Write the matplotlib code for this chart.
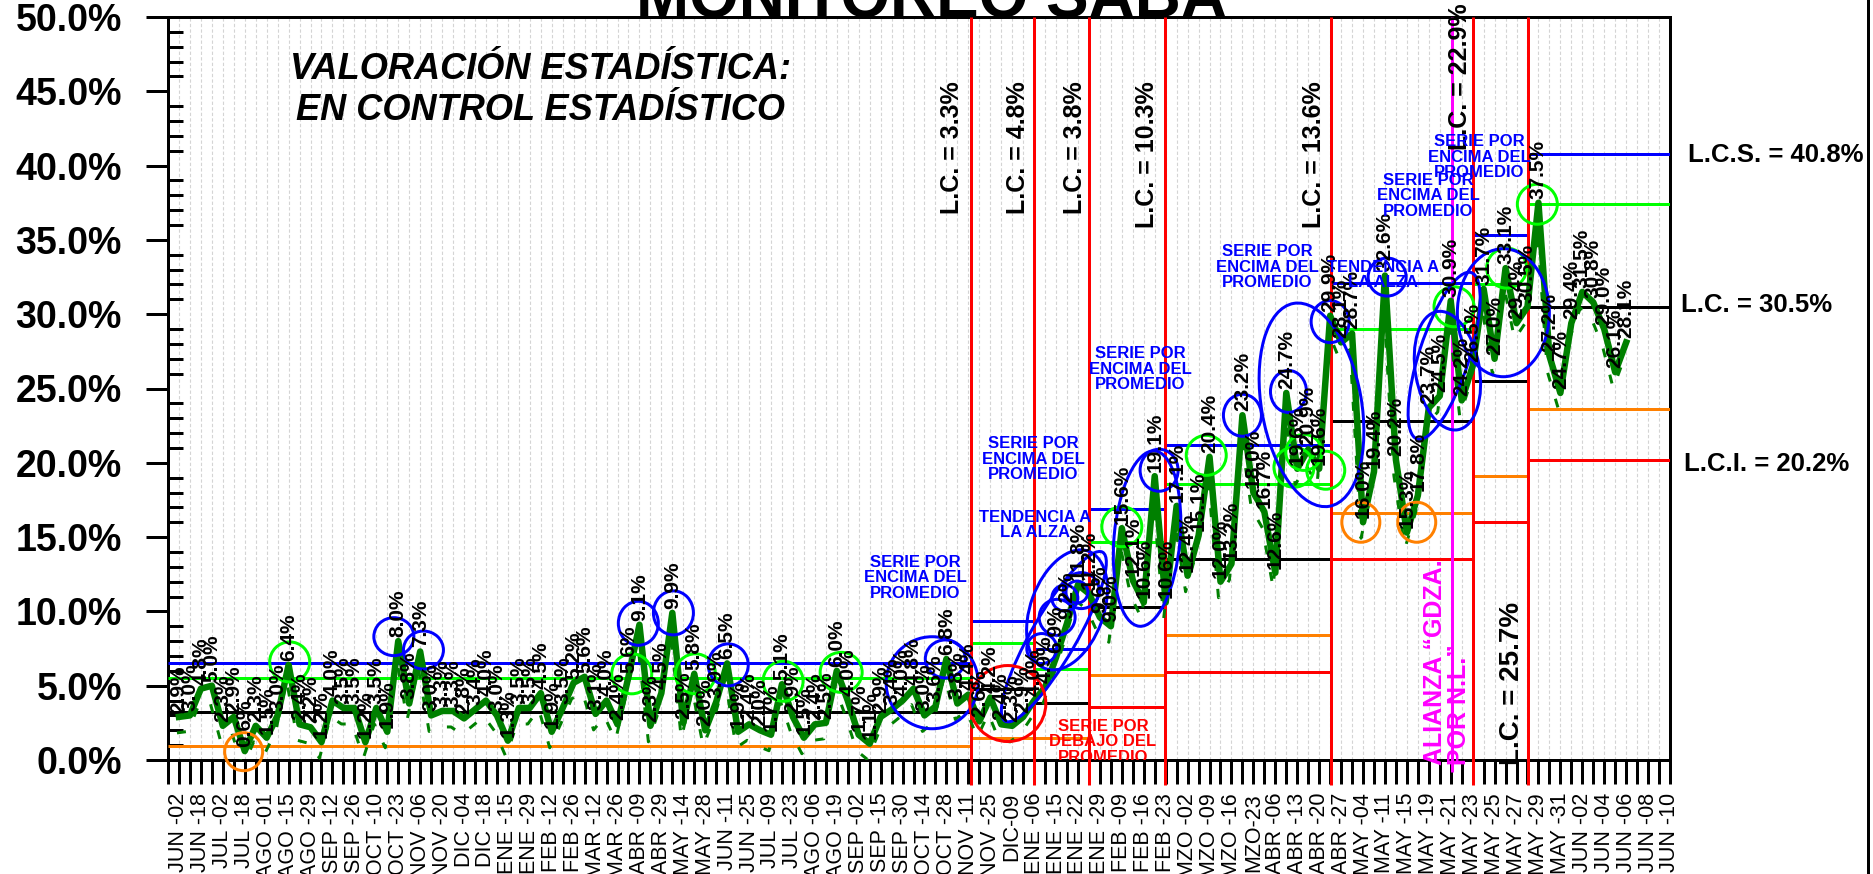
import matplotlib
matplotlib.use("Agg")
import matplotlib.pyplot as plt
from matplotlib.patches import Ellipse
from matplotlib.transforms import ScaledTranslation, offset_copy
from matplotlib.lines import Line2D
import numpy as np

plt.rcParams['font.family'] = ['Liberation Sans', 'DejaVu Sans']

# ---------------- data ----------------
x_labels = ["JUN -02", "JUN -18", "JUL -02", "JUL -18", "AGO -01", "AGO -15", "AGO -29",
            "SEP -12", "SEP -26", "OCT -10", "OCT -23", "NOV -06", "NOV -20", "DIC -04",
            "DIC -18", "ENE -15", "ENE -29", "FEB -12", "FEB -26", "MAR -12", "MAR -26",
            "ABR -09", "ABR -29", "MAY -14", "MAY -28", "JUN -11", "JUN -25", "JUL -09",
            "JUL -23", "AGO -06", "AGO -19", "SEP -02", "SEP -15", "SEP -30", "OCT -14",
            "OCT -28", "NOV -11", "NOV -25", "DIC-09", "ENE -06", "ENE -15", "ENE -22",
            "ENE -29", "FEB -09", "FEB -16", "FEB -23", "MZO -02", "MZO -09", "MZO -16",
            "MZO-23", "ABR -06", "ABR -13", "ABR -20", "ABR -27", "MAY -04", "MAY -11",
            "MAY -15", "MAY -19", "MAY -21", "MAY -23", "MAY -25", "MAY -27", "MAY -29",
            "MAY -31", "JUN -02", "JUN -04", "JUN -06", "JUN -08", "JUN -10"]
n_categories = 138          # category slots on the axis (labels on every 2nd slot)

values = [
    2.9, 3.0, 4.8, 5.0, 2.3, 2.9, 0.6, 2.3, 1.5, 3.0,
    6.4, 2.4, 2.2, 1.2, 4.0, 3.5, 3.5, 1.2, 3.5, 1.9,
    8.0, 3.8, 7.3, 3.0, 3.3, 3.3, 2.8, 3.4, 4.0, 3.0,
    1.3, 3.5, 3.5, 4.5, 1.9, 3.5, 5.2, 5.6, 3.1, 4.0,
    2.4, 5.6, 9.1, 2.3, 4.5, 9.9, 2.5, 5.8, 2.0, 3.9,
    6.5, 1.9, 2.4, 2.0, 1.7, 5.1, 2.9, 1.5, 2.4, 2.5,
    6.0, 4.0, 1.7, 1.1, 2.9, 3.4, 4.0, 4.8, 3.0, 3.6,
    6.8, 3.8, 4.4, 2.6, 4.2, 2.4, 2.3, 2.9, 4.0, 4.9,
    6.9, 9.2, 11.8, 11.2, 9.6, 9.0, 15.6, 12.1, 10.6, 19.1,
    10.6, 17.1, 12.4, 15.1, 20.4, 12.0, 13.2, 23.2, 18.0, 16.7,
    12.6, 24.7, 19.6, 20.9, 19.6, 29.9, 28.1, 28.7, 16.0, 19.4,
    32.6, 20.2, 15.3, 17.8, 23.7, 24.5, 30.9, 24.2, 26.5, 31.7,
    27.0, 33.1, 29.4, 30.5, 37.5, 27.2, 24.7, 29.4, 31.5, 30.8,
    29.0, 26.1, 28.1]
first_category = 1

# control-limit phases
phase_edges = [0, 73.2, 79.0, 84.05, 90.9, 106.1, 119.0, 124.05, 137]
ucl    = [6.5, 9.35, 7.45, 16.9, 21.2, 32.1, 35.3, 40.8]
upper2 = [5.5, 7.85, 6.1, 14.7, 18.6, 29.0, 32.05, 37.4]
cl     = [3.2, 4.75, 3.85, 10.3, 13.5, 22.8, 25.5, 30.5]
lower2 = [0.95, 1.5, 1.45, 5.7, 8.4, 16.6, 19.1, 23.6]
lcl    = [None, None, None, 3.55, 5.9, 13.5, 16.0, 20.2]
cl_text = ["L.C. = 3.3%", "L.C. = 4.8%", "L.C. = 3.8%", "L.C. = 10.3%",
           "L.C. = 13.6%", "L.C. = 22.9%", "L.C. = 25.7%"]
alliance_position = 117.1

# ---------------- figure ----------------
W, H = 1874, 874
fig = plt.figure(figsize=(W / 100, H / 100), dpi=100)
fig.patch.set_facecolor("white")
X0, X1, Y0, Y1 = 168, 1670, 17, 760
ax = fig.add_axes([X0 / W, 1 - Y1 / H, (X1 - X0) / W, (Y1 - Y0) / H])
ax.set_xlim(0, n_categories - 1)
ax.set_ylim(0, 50)

PX = 0.72  # points per pixel

# gridlines
for c in range(n_categories):
    ax.axvline(c, color="#d4d4d4", lw=0.8, ls=(0, (3, 2)), zorder=0)

# limit segments
for i in range(len(cl)):
    a, b = phase_edges[i], phase_edges[i + 1]
    for val, col in ((ucl[i], "#0000FF"), (upper2[i], "#00FF00"), (cl[i], "black"),
                     (lower2[i], "#FF8000"), (lcl[i], "#FF0000")):
        if val is not None:
            ax.hlines(val, a, b, colors=col, lw=3 * PX, zorder=3)

# vertical phase lines
for e in phase_edges[1:-1]:
    ax.vlines(e, -1.65, 50, colors="#FF0000", lw=3 * PX, zorder=4, clip_on=False)
ax.vlines(alliance_position, -0.8, 50, colors="#FF00FF", lw=3 * PX, zorder=4, clip_on=False)

# series
cats = np.arange(first_category, first_category + len(values))
shadow = offset_copy(ax.transData, fig=fig, x=-2, y=-16, units="dots")
ax.plot(cats, values, color="#008000", lw=3 * PX, ls=(0, (3, 6)), transform=shadow,
        zorder=4)
ax.plot(cats, values, color="#008000", lw=6.5 * PX, zorder=6, solid_joinstyle="round")

for c, v in zip(cats, values):
    ax.annotate(f"{v:.1f}%", xy=(c, v), xytext=(0, 3), textcoords="offset points",
                rotation=90, ha="center", va="bottom", fontsize=15, fontweight="bold",
                zorder=8)

# circles / ellipses (center in data, size in pixels)
marks = [
    # green
    (11.1, 6.6, 40, 40, 0, "#00FF00"), (42.3, 5.8, 40, 40, 0, "#00FF00"),
    (48.1, 5.8, 40, 40, 0, "#00FF00"), (56.1, 5.3, 40, 40, 0, "#00FF00"),
    (61.4, 5.9, 42, 40, 0, "#00FF00"), (87.0, 15.7, 40, 40, 0, "#00FF00"),
    (94.7, 20.5, 40, 40, 0, "#00FF00"), (102.7, 19.7, 40, 40, 0, "#00FF00"),
    (103.6, 20.7, 36, 36, 0, "#00FF00"), (105.6, 19.5, 38, 38, 0, "#00FF00"),
    (117.3, 30.5, 40, 40, 0, "#00FF00"), (122.1, 33.1, 40, 40, 0, "#00FF00"),
    (124.9, 37.4, 40, 40, 0, "#00FF00"),
    # blue
    (20.6, 8.3, 40, 38, 0, "#0000FF"), (23.3, 7.4, 40, 38, 0, "#0000FF"),
    (42.9, 9.2, 40, 44, 0, "#0000FF"), (46.1, 9.9, 40, 44, 0, "#0000FF"),
    (51.1, 6.4, 40, 42, 0, "#0000FF"), (69.7, 5.2, 92, 92, 0, "#0000FF"),
    (70.9, 6.8, 40, 38, 0, "#0000FF"),
    (80.8, 8.3, 195, 45, 60, "#0000FF"), (82.0, 10.1, 73, 125, -20, "#0000FF"),
    (79.7, 7.5, 30, 30, 0, "#0000FF"), (81.1, 9.6, 36, 36, 0, "#0000FF"),
    (81.8, 10.9, 26, 26, 0, "#0000FF"), (82.9, 11.3, 22, 22, 0, "#0000FF"),
    (83.3, 11.4, 36, 36, 0, "#0000FF"),
    (89.3, 14.9, 66, 176, -5, "#0000FF"), (90.4, 19.5, 38, 42, 0, "#0000FF"),
    (98.0, 23.2, 38, 42, 0, "#0000FF"), (102.2, 24.8, 36, 42, 0, "#0000FF"),
    (104.3, 23.9, 100, 206, 10, "#0000FF"), (106.0, 29.5, 38, 42, 0, "#0000FF"),
    (111.2, 32.5, 38, 38, 0, "#0000FF"),
    (116.7, 26.2, 64, 120, 10, "#0000FF"), (116.4, 27.2, 50, 175, -18, "#0000FF"),
    (121.8, 30.1, 92, 128, 0, "#0000FF"),
    # orange
    (6.9, 0.56, 38, 38, 0, "#FF8000"), (108.8, 16.0, 38, 40, 0, "#FF8000"),
    (113.9, 16.0, 38, 40, 0, "#FF8000"),
    # red
    (76.6, 3.8, 76, 76, 0, "#FF0000"),
]
for cx, cy, w, h, ang, col in marks:
    e = Ellipse((0, 0), w, h, angle=ang, fill=False, edgecolor=col, lw=3 * PX,
                transform=ScaledTranslation(cx, cy, ax.transData), zorder=7, clip_on=False)
    ax.add_artist(e)

# axes styling
for s in ax.spines.values():
    s.set_linewidth(3 * PX)
    s.set_color("black")
ax.set_yticks(np.arange(0, 51, 5))
ax.set_yticklabels([f"{t:.1f}%" for t in np.arange(0, 51, 5)], fontsize=27, fontweight="bold")
ax.set_yticks(np.arange(0, 51, 1), minor=True)
ax.tick_params(axis="y", which="major", direction="out", length=22 * PX, width=3 * PX, pad=24 * PX)
ax.tick_params(axis="y", which="minor", direction="in", length=15 * PX, width=3 * PX)
ticklabs = [""] * n_categories
for k, lab in enumerate(x_labels):
    ticklabs[2 * k + 1] = lab
ax.set_xticks(np.arange(n_categories))
ax.set_xticklabels(ticklabs, rotation=90, fontsize=15.5)
ax.tick_params(axis="x", which="major", direction="out", length=24 * PX, width=3 * PX, pad=9 * PX)

# ---------------- texts ----------------
def ftext(x, y, s, **kw):
    fig.text(x / W, 1 - y / H, s, **kw)

ftext(932, 17, "MONITOREO SABA", ha="center", va="baseline", fontsize=46, fontweight="bold")
ftext(540, 90, "VALORACIÓN ESTADÍSTICA:\nEN CONTROL ESTADÍSTICO", ha="center", va="center",
      fontsize=26, fontweight="bold", fontstyle="italic", linespacing=1.25)

cl_pos = [(952, 81, "top", 18), (1018, 81, "top", 18), (1075, 81, "top", 18),
          (1147, 81, "top", 18), (1314, 81, "top", 18), (1460, 3, "top", 18),
          (1512, 765, "bottom", 20)]
for (x, y, va, fs), s in zip(cl_pos, cl_text):
    ftext(x, y, s, rotation=90, ha="center", va=va, fontsize=fs, fontweight="bold")

ftext(1447, 765, "ALIANZA \u201cGDZA.\nPOR N.L.\u201d", rotation=90, ha="center", va="bottom",
      fontsize=18, fontweight="bold", color="#FF00FF", multialignment="left", linespacing=1.0)

ftext(1776, 155, "L.C.S. = 40.8%", ha="center", va="center", fontsize=18.5, fontweight="bold")
ftext(1757, 305, "L.C. = 30.5%", ha="center", va="center", fontsize=18.5, fontweight="bold")
ftext(1767, 464, "L.C.I. = 20.2%", ha="center", va="center", fontsize=18.5, fontweight="bold")

blue_notes = [(915, 578, "SERIE POR\nENCIMA DEL\nPROMEDIO"),
              (1033, 459, "SERIE POR\nENCIMA DEL\nPROMEDIO"),
              (1035, 525, "TENDENCIA A\nLA ALZA"),
              (1140, 369, "SERIE POR\nENCIMA DEL\nPROMEDIO"),
              (1267, 267, "SERIE POR\nENCIMA DEL\nPROMEDIO"),
              (1383, 275, "TENDENCIA A\nLA ALZA"),
              (1428, 196, "SERIE POR\nENCIMA DEL\nPROMEDIO"),
              (1479, 157, "SERIE POR\nENCIMA DEL\nPROMEDIO")]
for x, y, s in blue_notes:
    ftext(x, y, s, ha="center", va="center", fontsize=12, fontweight="bold",
          color="#0000FF", linespacing=1.05, zorder=9)

ax.text((1103 - X0) / ((X1 - X0) / (n_categories - 1)), (760 - 742) / ((Y1 - Y0) / 50),
        "SERIE POR\nDEBAJO DEL\nPROMEDIO", ha="center", va="center", fontsize=12,
        fontweight="bold", color="#FF0000", linespacing=1.05, zorder=9, clip_on=True)

fig.add_artist(Line2D([1868 / W, 1868 / W], [0, 1], transform=fig.transFigure,
                      color="black", lw=3 * PX))

fig.savefig("out.png", dpi=100)
